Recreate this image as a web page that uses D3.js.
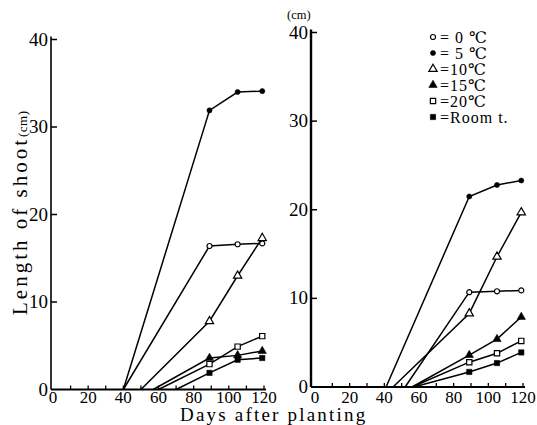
<!DOCTYPE html>
<html>
<head>
<meta charset="utf-8">
<script src="https://cdn.jsdelivr.net/npm/d3@7"></script>
<style>
body { margin: 0; background: #fff; }
svg { display: block; }
text { font-family: "Liberation Serif", "DejaVu Serif", serif; fill: #000; }
</style>
</head>
<body>
<script>
svg_w = 537
svg_h = 425

// data
var days = [89, 105, 119]
var legendLabels = ["= 0 ℃", "= 5 ℃", "=10℃", "=15℃", "=20℃", "=Room  t."]
var markerKind = ["circleOpen", "circle", "triangleOpen", "triangle", "squareOpen", "square"]
var leftStart = [40, 40, 50, 57, 60, 70]
var leftVals = [
    [16.4, 16.6, 16.7],
    [31.9, 34.0, 34.1],
    [7.8, 13.0, 17.3],
    [3.6, 3.9, 4.4],
    [2.9, 4.9, 6.1],
    [1.9, 3.4, 3.6]
]
var rightStart = [52, 41, 45, 56, 56, 57]
var rightVals = [
    [10.7, 10.8, 10.9],
    [21.5, 22.8, 23.3],
    [8.3, 14.7, 19.7],
    [3.6, 5.4, 7.9],
    [2.8, 3.8, 5.2],
    [1.7, 2.7, 3.9]
]
var xTickLabels = [0, 20, 40, 60, 80, 100, 120]
var xMinor = [10, 20, 30, 40, 50, 60, 70, 80, 90, 100, 110, 120]
var yTickLabels = [0, 10, 20, 30, 40]

var svg = d3.select("body")
        .append("svg")
        .attr("width", svg_w)
        .attr("height", svg_h)

function marker(g, kind, x, y) {
    var sym, size
    if (kind.startsWith("circle")) { sym = d3.symbolCircle; size = 20 }
    else if (kind.startsWith("triangle")) { sym = d3.symbolTriangle; size = 30 }
    else { sym = d3.symbolSquare; size = 28 }
    var open = kind.endsWith("Open")
    g.append("path")
        .attr("d", d3.symbol().type(sym).size(size)())
        .attr("transform", "translate(" + x + "," + y + ")")
        .attr("fill", open ? "#fff" : "#000")
        .attr("stroke", "#000")
        .attr("stroke-width", open ? 1.2 : 0.6)
}

function panel(opt) {
    var g = svg.append("g")
    var x = d3.scaleLinear().domain([0, 120]).range([opt.x0, opt.x1])
    var y = d3.scaleLinear().domain([0, 40]).range([opt.y0, opt.y1])

    // axes
    g.append("line").attr("x1", opt.ax).attr("x2", opt.ax)
        .attr("y1", opt.y0).attr("y2", opt.y1 - 3)
        .attr("stroke", "#000").attr("stroke-width", opt.aw)
    g.append("line").attr("x1", opt.ax).attr("x2", x(120) + 2)
        .attr("y1", opt.y0).attr("y2", opt.y0)
        .attr("stroke", "#000").attr("stroke-width", 1.8)

    g.selectAll(".yt").data(yTickLabels.slice(1)).enter()
        .append("line")
        .attr("x1", opt.ax).attr("x2", opt.ax + 6)
        .attr("y1", d => y(d)).attr("y2", d => y(d))
        .attr("stroke", "#000").attr("stroke-width", 1.5)

    g.selectAll(".xt").data(xMinor).enter()
        .append("line")
        .attr("x1", d => x(d)).attr("x2", d => x(d))
        .attr("y1", opt.y0).attr("y2", opt.y0 - 4)
        .attr("stroke", "#000").attr("stroke-width", 1.3)

    g.selectAll(".yl").data(yTickLabels).enter()
        .append("text")
        .attr("x", opt.ax - 3)
        .attr("y", d => y(d) + 6)
        .attr("text-anchor", "end")
        .attr("font-size", 19)
        .text(d => d)

    g.selectAll(".xl").data(xTickLabels).enter()
        .append("text")
        .attr("x", d => x(d))
        .attr("y", 403)
        .attr("text-anchor", "middle")
        .attr("font-size", 17)
        .text(d => d)

    // series
    var line = d3.line().x(d => x(d[0])).y(d => y(d[1]))
    for (let k = 0; k < opt.vals.length; k++) {
        var pts = [[opt.start[k], 0]]
        for (let i = 0; i < days.length; i++) pts.push([days[i], opt.vals[k][i]])
        g.append("path")
            .attr("d", line(pts))
            .attr("fill", "none")
            .attr("stroke", "#000")
            .attr("stroke-width", 1.5)
        for (let i = 1; i < pts.length; i++) {
            marker(g, markerKind[k], x(pts[i][0]), y(pts[i][1]))
        }
    }
}

panel({ x0: 53, x1: 264, y0: 389.5, y1: 39.5, ax: 51, aw: 1.6, start: leftStart, vals: leftVals })
panel({ x0: 315, x1: 523, y0: 387, y1: 32.5, ax: 311, aw: 2.4, start: rightStart, vals: rightVals })

// axis titles
svg.append("text")
    .attr("transform", "translate(27,315) rotate(-90)")
    .attr("font-size", 21)
    .attr("letter-spacing", 3)
    .text("Length of shoot")
    .append("tspan")
    .attr("font-size", 13)
    .attr("letter-spacing", 0.5)
    .text("(cm)")

svg.append("text")
    .attr("x", 180)
    .attr("y", 421)
    .attr("font-size", 19)
    .attr("letter-spacing", 2.2)
    .text("Days after planting")

svg.append("text")
    .attr("x", 287)
    .attr("y", 19)
    .attr("font-size", 12.5)
    .text("(cm)")

// legend
var leg = svg.append("g")
for (let i = 0; i < legendLabels.length; i++) {
    var ly = 37 + i * 16
    marker(leg, markerKind[i], 433, ly)
    leg.append("text")
        .attr("x", 440)
        .attr("y", ly + 5.5)
        .attr("font-size", 16)
        .attr("letter-spacing", 1)
        .text(legendLabels[i])
}
</script>
</body>
</html>
